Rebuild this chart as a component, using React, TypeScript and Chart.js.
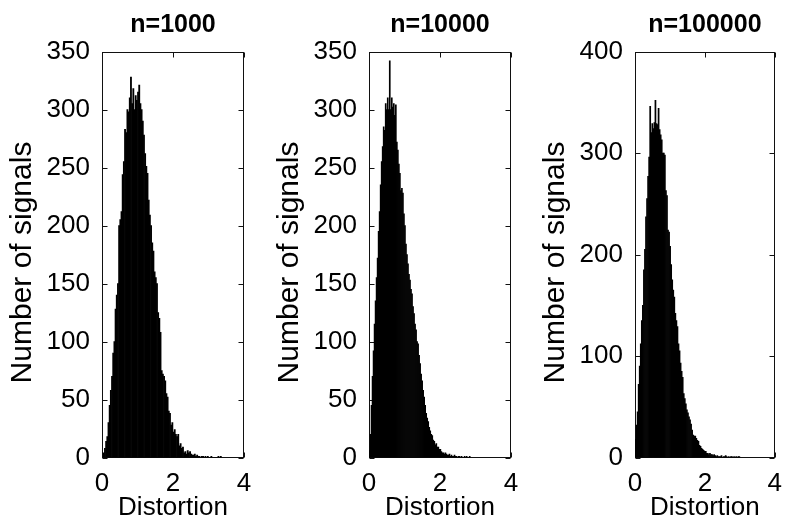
import React, { useEffect, useRef } from "react";
import { Chart, registerables } from "chart.js";

Chart.register(...registerables);

// ---- data ----
const panelTitles = ["n=1000", "n=10000", "n=100000"];
const xAxisLabel = "Distortion";
const yAxisLabel = "Number of signals";
const xTickValues = [0, 2, 4];
const yTicksA = [0, 50, 100, 150, 200, 250, 300, 350];
const yTicksB = [0, 100, 200, 300, 400];

// histogram bins: first bin centre and bin width
const bins1 = { start: 0.05, width: 0.0333 };
const counts1 = [
  4, 8, 14, 18, 30, 45, 58, 70, 90, 100,
  128, 140, 150, 200, 205, 212, 244, 255, 283, 280,
  300, 298, 310, 328, 305, 318, 300, 312, 308, 315,
  321, 305, 300, 290, 278, 262, 251, 245, 222, 209,
  200, 185, 178, 160, 155, 150, 125, 120, 108, 75,
  72, 70, 66, 55, 52, 40, 38, 28, 30, 22,
  24, 20, 18, 20, 10, 12, 8, 9, 4, 5,
  3, 6, 4, 5, 3, 2, 2, 3, 1, 2,
  1, 1, 0, 1, 1, 0, 1, 0, 1, 0,
  0, 1, 0, 0, 0, 0, 0, 1, 0, 1,
];

const bins2 = { start: 0.015, width: 0.0285 };
const counts2 = [
  6, 20, 45, 70, 92, 115, 135, 155, 172, 195,
  212, 235, 255, 268, 285, 282, 305, 300, 310, 300,
  342, 300, 310, 302, 305, 295, 304, 272, 265, 253,
  245, 230, 232, 228, 210, 200, 184, 175, 167, 158,
  153, 145, 141, 130, 124, 115, 110, 100, 98, 88,
  81, 72, 66, 58, 52, 45, 38, 34, 31, 26,
  23, 20, 19, 15, 14, 11, 12, 9, 9, 7,
  7, 5, 4, 4, 3, 4, 3, 2, 2, 3,
  1, 2, 1, 1, 2, 1, 1, 0, 1, 1,
  0, 1, 0, 0, 1, 0, 1, 0, 0, 1,
];

const bins3 = { start: 0.015, width: 0.03 };
const counts3 = [
  18, 32, 45, 72, 90, 112, 135, 150, 185, 205,
  237, 255, 277, 296, 346, 320, 329, 324, 330, 352,
  329, 328, 344, 323, 318, 313, 300, 300, 298, 263,
  258, 224, 222, 208, 190, 175, 165, 158, 142, 135,
  129, 112, 105, 93, 85, 79, 63, 58, 53, 47,
  44, 40, 37, 33, 27, 22, 21, 21, 19, 17,
  16, 12, 11, 9, 8, 7, 6, 6, 4, 4,
  3, 4, 3, 3, 2, 3, 2, 1, 2, 1,
  1, 1, 2, 0, 1, 1, 2, 1, 0, 1,
  0, 1, 1, 0, 1, 0, 1, 0, 1, 1,
];

const FONT = "'Liberation Sans', Arial, Helvetica, sans-serif";
const FS = 26;
const FS_TITLE = 25;
const FS_Y = 30;

const boxPlugin = {
  id: "matlabBox",
  beforeDatasetsDraw(chart: any) {
    const { ctx, chartArea: a, scales } = chart;
    const L = Math.round(a.left) + 0.5;
    const R = Math.round(a.right) - 0.5;
    const T = Math.round(a.top) + 0.5;
    const B = Math.round(a.bottom) - 0.5;
    ctx.save();
    ctx.strokeStyle = "#111";
    ctx.lineWidth = 1;
    ctx.strokeRect(L, T, R - L, B - T);
    const tl = 5;
    ctx.beginPath();
    scales.y.ticks.forEach((t: any) => {
      const py = Math.round(scales.y.getPixelForValue(t.value)) + 0.5;
      ctx.moveTo(L, py);
      ctx.lineTo(L + tl, py);
      ctx.moveTo(R, py);
      ctx.lineTo(R - tl, py);
    });
    scales.x.ticks.forEach((t: any) => {
      const px = Math.round(scales.x.getPixelForValue(t.value)) + 0.5;
      ctx.moveTo(px, T);
      ctx.lineTo(px, T + tl);
      ctx.moveTo(px, B);
      ctx.lineTo(px, B - tl);
    });
    ctx.stroke();
    ctx.restore();
  },
  afterDraw(chart: any) {
    const { ctx, chartArea: a } = chart;
    ctx.save();
    ctx.translate(a.left - 79.5, (a.top + a.bottom) / 2 + 8);
    ctx.rotate(-Math.PI / 2);
    ctx.textAlign = "center";
    ctx.textBaseline = "middle";
    ctx.fillStyle = "#000";
    ctx.font = `${FS_Y}px ${FONT}`;
    ctx.fillText(yAxisLabel, 0, 0);
    ctx.restore();
  },
};

type PanelProps = {
  title: string;
  bins: { start: number; width: number };
  counts: number[];
  yTicks: number[];
  left: number;
  width: number;
  padRight: number;
};

function Panel({ title, bins, counts, yTicks, left, width, padRight }: PanelProps) {
  const ref = useRef<HTMLCanvasElement | null>(null);
  useEffect(() => {
    if (!ref.current) return;
    const points = counts.map((c, i) => ({ x: bins.start + i * bins.width, y: c }));
    const chart = new Chart(ref.current, {
      type: "bar",
      data: {
        datasets: [
          {
            data: points as any,
            backgroundColor: "#000",
            borderWidth: 0,
            barPercentage: 1,
            categoryPercentage: 1,
          },
        ],
      },
      plugins: [boxPlugin],
      options: {
        animation: false,
        responsive: false,
        layout: { padding: { left: 0, right: padRight, top: 0, bottom: 0 } },
        plugins: {
          legend: { display: false },
          tooltip: { enabled: false },
          title: {
            display: true,
            text: title,
            fullSize: false,
            color: "#000",
            font: { family: FONT, size: FS_TITLE, weight: "bold", lineHeight: 1.2 },
            padding: { top: 10, bottom: 11.5 },
          },
        },
        scales: {
          x: {
            type: "linear",
            min: 0,
            max: 4,
            offset: false,
            grid: { display: false, offset: false },
            border: { display: false },
            afterBuildTicks: (s: any) => {
              s.ticks = xTickValues.map((v) => ({ value: v }));
            },
            afterFit: (s: any) => {
              s.height = 67.5;
            },
            ticks: {
              color: "#000",
              padding: 3,
              maxRotation: 0,
              font: { family: FONT, size: FS, lineHeight: 1.2 },
            },
            title: {
              display: true,
              text: xAxisLabel,
              color: "#000",
              font: { family: FONT, size: FS, lineHeight: 1.2 },
              padding: { top: 0, bottom: 2 },
            },
          },
          y: {
            type: "linear",
            min: yTicks[0],
            max: yTicks[yTicks.length - 1],
            grid: { display: false },
            border: { display: false },
            afterBuildTicks: (s: any) => {
              s.ticks = yTicks.map((v) => ({ value: v }));
            },
            afterFit: (s: any) => {
              s.width = 102;
            },
            ticks: {
              color: "#000",
              padding: 4,
              font: { family: FONT, size: FS, lineHeight: 1.2 },
            },
            title: { display: false },
          },
        },
      },
    });
    return () => chart.destroy();
  }, [title, bins, counts, yTicks, padRight]);

  return (
    <div style={{ position: "absolute", left, top: 0, width, height: 525 }}>
      <canvas ref={ref} width={width} height={525} style={{ display: "block" }} />
    </div>
  );
}

export default function App() {
  return (
    <div
      style={{
        position: "fixed",
        left: 0,
        top: 0,
        width: 785,
        height: 525,
        background: "#fff",
        overflow: "hidden",
      }}
    >
      <Panel title={panelTitles[0]} bins={bins1} counts={counts1} yTicks={yTicksA} left={0} width={260} padRight={16} />
      <Panel title={panelTitles[1]} bins={bins2} counts={counts2} yTicks={yTicksA} left={267} width={260} padRight={16} />
      <Panel title={panelTitles[2]} bins={bins3} counts={counts3} yTicks={yTicksB} left={533} width={252} padRight={9} />
    </div>
  );
}
